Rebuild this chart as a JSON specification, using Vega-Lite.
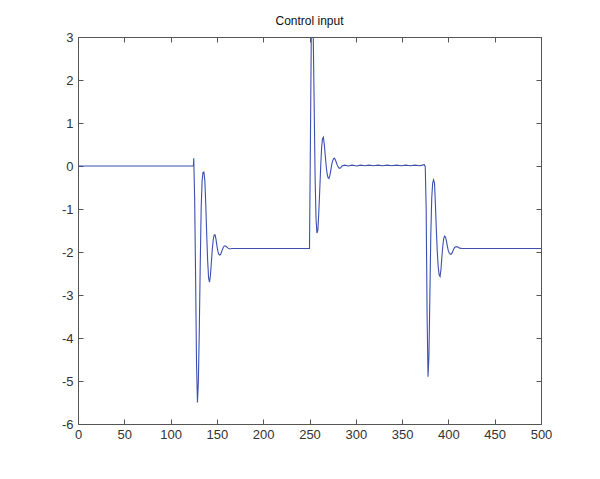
{
  "$schema": "https://vega.github.io/schema/vega-lite/v6.json",
  "width": 463,
  "height": 387,
  "autosize": {"type": "none"},
  "padding": {"left": 78, "top": 37, "right": 59, "bottom": 55},
  "background": "white",
  "config": {
    "view": {"stroke": "#555", "strokeWidth": 1},
    "font": "Liberation Sans",
    "axis": {
      "grid": false,
      "domain": false,
      "tickColor": "#555",
      "tickSize": -5,
      "labelFont": "Liberation Sans",
      "labelFontSize": 13,
      "labelColor": "#333",
      "title": null
    }
  },
  "title": {"text": "Control input", "fontSize": 12, "fontWeight": "normal", "color": "#111", "font": "Liberation Sans", "offset": 9, "dy": 21},
  "data": {"values": [
    {"t": 0, "u": 0}, {"t": 124, "u": 0}, {"t": 124.6, "u": 0.0}, {"t": 125, "u": 0.18},
    {"t": 126, "u": -0.8}, {"t": 127, "u": -2.6}, {"t": 128, "u": -4.6}, {"t": 129, "u": -5.5},
    {"t": 130, "u": -5.0}, {"t": 131, "u": -3.8}, {"t": 132, "u": -2.3}, {"t": 133, "u": -1.0},
    {"t": 134, "u": -0.35}, {"t": 135, "u": -0.15}, {"t": 136, "u": -0.14}, {"t": 137, "u": -0.35},
    {"t": 138, "u": -0.9}, {"t": 139, "u": -1.6}, {"t": 140, "u": -2.2}, {"t": 141, "u": -2.6},
    {"t": 142, "u": -2.7}, {"t": 143, "u": -2.55}, {"t": 144, "u": -2.25}, {"t": 145, "u": -1.95},
    {"t": 146, "u": -1.72}, {"t": 147, "u": -1.61}, {"t": 148, "u": -1.6}, {"t": 149, "u": -1.7},
    {"t": 150, "u": -1.85}, {"t": 151, "u": -1.98}, {"t": 152, "u": -2.05}, {"t": 153, "u": -2.07},
    {"t": 154, "u": -2.06}, {"t": 155, "u": -2.0}, {"t": 156, "u": -1.94}, {"t": 157, "u": -1.89},
    {"t": 158, "u": -1.86}, {"t": 159, "u": -1.86}, {"t": 160, "u": -1.87}, {"t": 161, "u": -1.89},
    {"t": 162, "u": -1.91}, {"t": 164, "u": -1.93}, {"t": 166, "u": -1.92}, {"t": 250, "u": -1.92},
    {"t": 251, "u": 0.6}, {"t": 252, "u": 3.2}, {"t": 253, "u": 3.5}, {"t": 254, "u": 3.1},
    {"t": 255, "u": 1.5}, {"t": 256, "u": -0.2}, {"t": 257, "u": -1.2}, {"t": 258, "u": -1.56},
    {"t": 259, "u": -1.5}, {"t": 260, "u": -1.1}, {"t": 261, "u": -0.6}, {"t": 262, "u": -0.05},
    {"t": 263, "u": 0.4}, {"t": 264, "u": 0.63}, {"t": 265, "u": 0.67}, {"t": 266, "u": 0.5},
    {"t": 267, "u": 0.25}, {"t": 268, "u": 0.0}, {"t": 269, "u": -0.18}, {"t": 270, "u": -0.27},
    {"t": 271, "u": -0.29}, {"t": 272, "u": -0.22}, {"t": 273, "u": -0.1}, {"t": 274, "u": 0.03},
    {"t": 275, "u": 0.12}, {"t": 276, "u": 0.17}, {"t": 277, "u": 0.18}, {"t": 278, "u": 0.14},
    {"t": 279, "u": 0.08}, {"t": 280, "u": 0.02}, {"t": 281, "u": -0.02}, {"t": 282, "u": -0.05},
    {"t": 283, "u": -0.05}, {"t": 284, "u": -0.03}, {"t": 285, "u": 0.0}, {"t": 288, "u": 0.02},
    {"t": 292, "u": 0.0}, {"t": 296, "u": 0.02}, {"t": 301, "u": 0.0}, {"t": 305, "u": 0.02},
    {"t": 310, "u": 0.005}, {"t": 314, "u": 0.02}, {"t": 319, "u": 0.005}, {"t": 324, "u": 0.02},
    {"t": 329, "u": 0.005}, {"t": 334, "u": 0.02}, {"t": 339, "u": 0.005}, {"t": 344, "u": 0.02},
    {"t": 349, "u": 0.005}, {"t": 354, "u": 0.02}, {"t": 359, "u": 0.005}, {"t": 364, "u": 0.02},
    {"t": 369, "u": 0.005}, {"t": 372, "u": 0.02},
    {"t": 374, "u": 0.03}, {"t": 375, "u": -0.02}, {"t": 376, "u": -1.0}, {"t": 377, "u": -3.5},
    {"t": 378, "u": -4.9}, {"t": 379, "u": -4.4}, {"t": 380, "u": -3.0}, {"t": 381, "u": -1.6},
    {"t": 382, "u": -0.75}, {"t": 383, "u": -0.4}, {"t": 384, "u": -0.32}, {"t": 385, "u": -0.4},
    {"t": 386, "u": -0.9}, {"t": 387, "u": -1.5}, {"t": 388, "u": -2.0}, {"t": 389, "u": -2.35},
    {"t": 390, "u": -2.53}, {"t": 391, "u": -2.57}, {"t": 392, "u": -2.4}, {"t": 393, "u": -2.1},
    {"t": 394, "u": -1.85}, {"t": 395, "u": -1.68}, {"t": 396, "u": -1.63}, {"t": 397, "u": -1.66},
    {"t": 398, "u": -1.76}, {"t": 399, "u": -1.88}, {"t": 400, "u": -1.98}, {"t": 401, "u": -2.03},
    {"t": 402, "u": -2.05}, {"t": 403, "u": -2.05}, {"t": 404, "u": -2.02}, {"t": 405, "u": -1.97},
    {"t": 406, "u": -1.92}, {"t": 407, "u": -1.89}, {"t": 408, "u": -1.88}, {"t": 409, "u": -1.88},
    {"t": 410, "u": -1.88}, {"t": 412, "u": -1.91}, {"t": 415, "u": -1.92}, {"t": 500, "u": -1.92}
  ]},
  "layer": [
    {
      "mark": {"type": "line", "color": "#3d50b0", "strokeWidth": 1.1, "clip": true, "interpolate": "linear"},
      "encoding": {
        "x": {"field": "t", "type": "quantitative", "scale": {"domain": [0, 500], "nice": false, "zero": false},
              "axis": {"orient": "bottom", "values": [0,50,100,150,200,250,300,350,400,450,500], "labelPadding": 9, "labelFlush": false}},
        "y": {"field": "u", "type": "quantitative", "scale": {"domain": [-6, 3], "nice": false, "zero": false},
              "axis": {"orient": "left", "values": [-6,-5,-4,-3,-2,-1,0,1,2,3], "labelPadding": 10,
                       "labelExpr": "datum.value < 0 ? '-' + abs(datum.value) : '' + datum.value"}}
      }
    },
    {
      "mark": {"type": "line", "opacity": 0},
      "encoding": {
        "x": {"field": "t", "type": "quantitative", "scale": {"domain": [0, 500], "nice": false, "zero": false},
              "axis": {"orient": "top", "labels": false, "values": [0,50,100,150,200,250,300,350,400,450,500]}},
        "y": {"field": "u", "type": "quantitative", "scale": {"domain": [-6, 3], "nice": false, "zero": false},
              "axis": {"orient": "right", "labels": false, "values": [-6,-5,-4,-3,-2,-1,0,1,2,3]}}
      }
    }
  ],
  "resolve": {"axis": {"x": "independent", "y": "independent"}}
}
